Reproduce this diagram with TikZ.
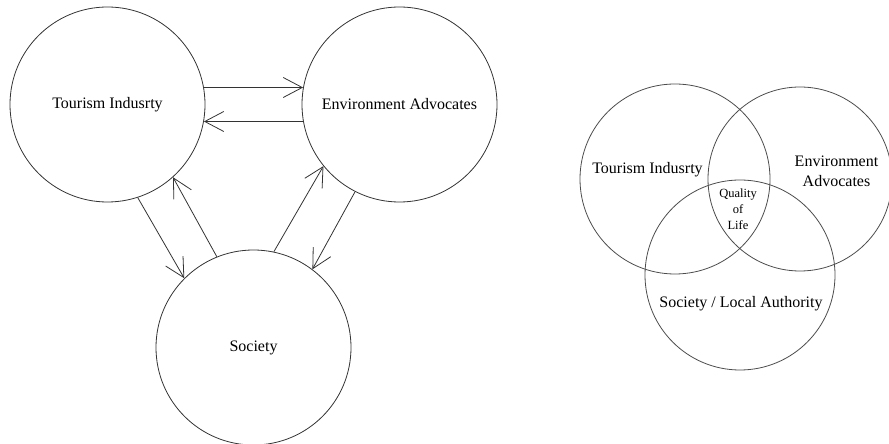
\documentclass[tikz,border=0pt]{standalone}
\usepackage{fontspec}
\setmainfont{Liberation Serif}
\usetikzlibrary{arrows.meta}

\begin{document}
\begin{tikzpicture}[x=1pt,y=1pt,font=\fontsize{16}{20}\selectfont,
  party/.style={circle,draw=black!80,line width=0.8pt,inner sep=0pt,minimum size=195pt},
  venn/.style={circle,draw=black!70,line width=0.8pt,inner sep=0pt,minimum size=#1},
  flow/.style={draw=black!80,line width=0.8pt,-{Straight Barb[length=19pt,width=20pt]}}]
\useasboundingbox (0,0) rectangle (889,444);

\begin{scope}
\node[party] (tour) at (107.5,339.5) {Tourism Indusrty};
\node[party] (env) at (399.5,339.5) {Environment Advocates};
\node[party] (soc) at (253.5,96.5) {Society};

\draw[flow] (tour.10) -- (env.170);
\draw[flow] (env.190) -- (tour.-10);
\draw[flow] (tour.-72) -- (soc.135);
\draw[flow] (soc.112) -- (tour.-48);
\draw[flow] (soc.78) -- (env.-141);
\draw[flow] (env.-117) -- (soc.53);
\end{scope}

\begin{scope}
\node[venn=190pt] (vtour) at (675,265) {};
\node[venn=184pt] (venv) at (800,265) {};
\node[venn=190pt] (vsoc) at (740,169) {};

\node (ltour) at (647.5,274) {Tourism Indusrty};
\node[align=center] (lenv) at (836.5,273) {Environment\\Advocates};
\node[align=center,font=\fontsize{12.5}{16}\selectfont] (lqol) at (738,235) {Quality\\of\\Life};
\node (lsoc) at (741,140) {Society / Local Authority};
\end{scope}

\end{tikzpicture}
\end{document}
